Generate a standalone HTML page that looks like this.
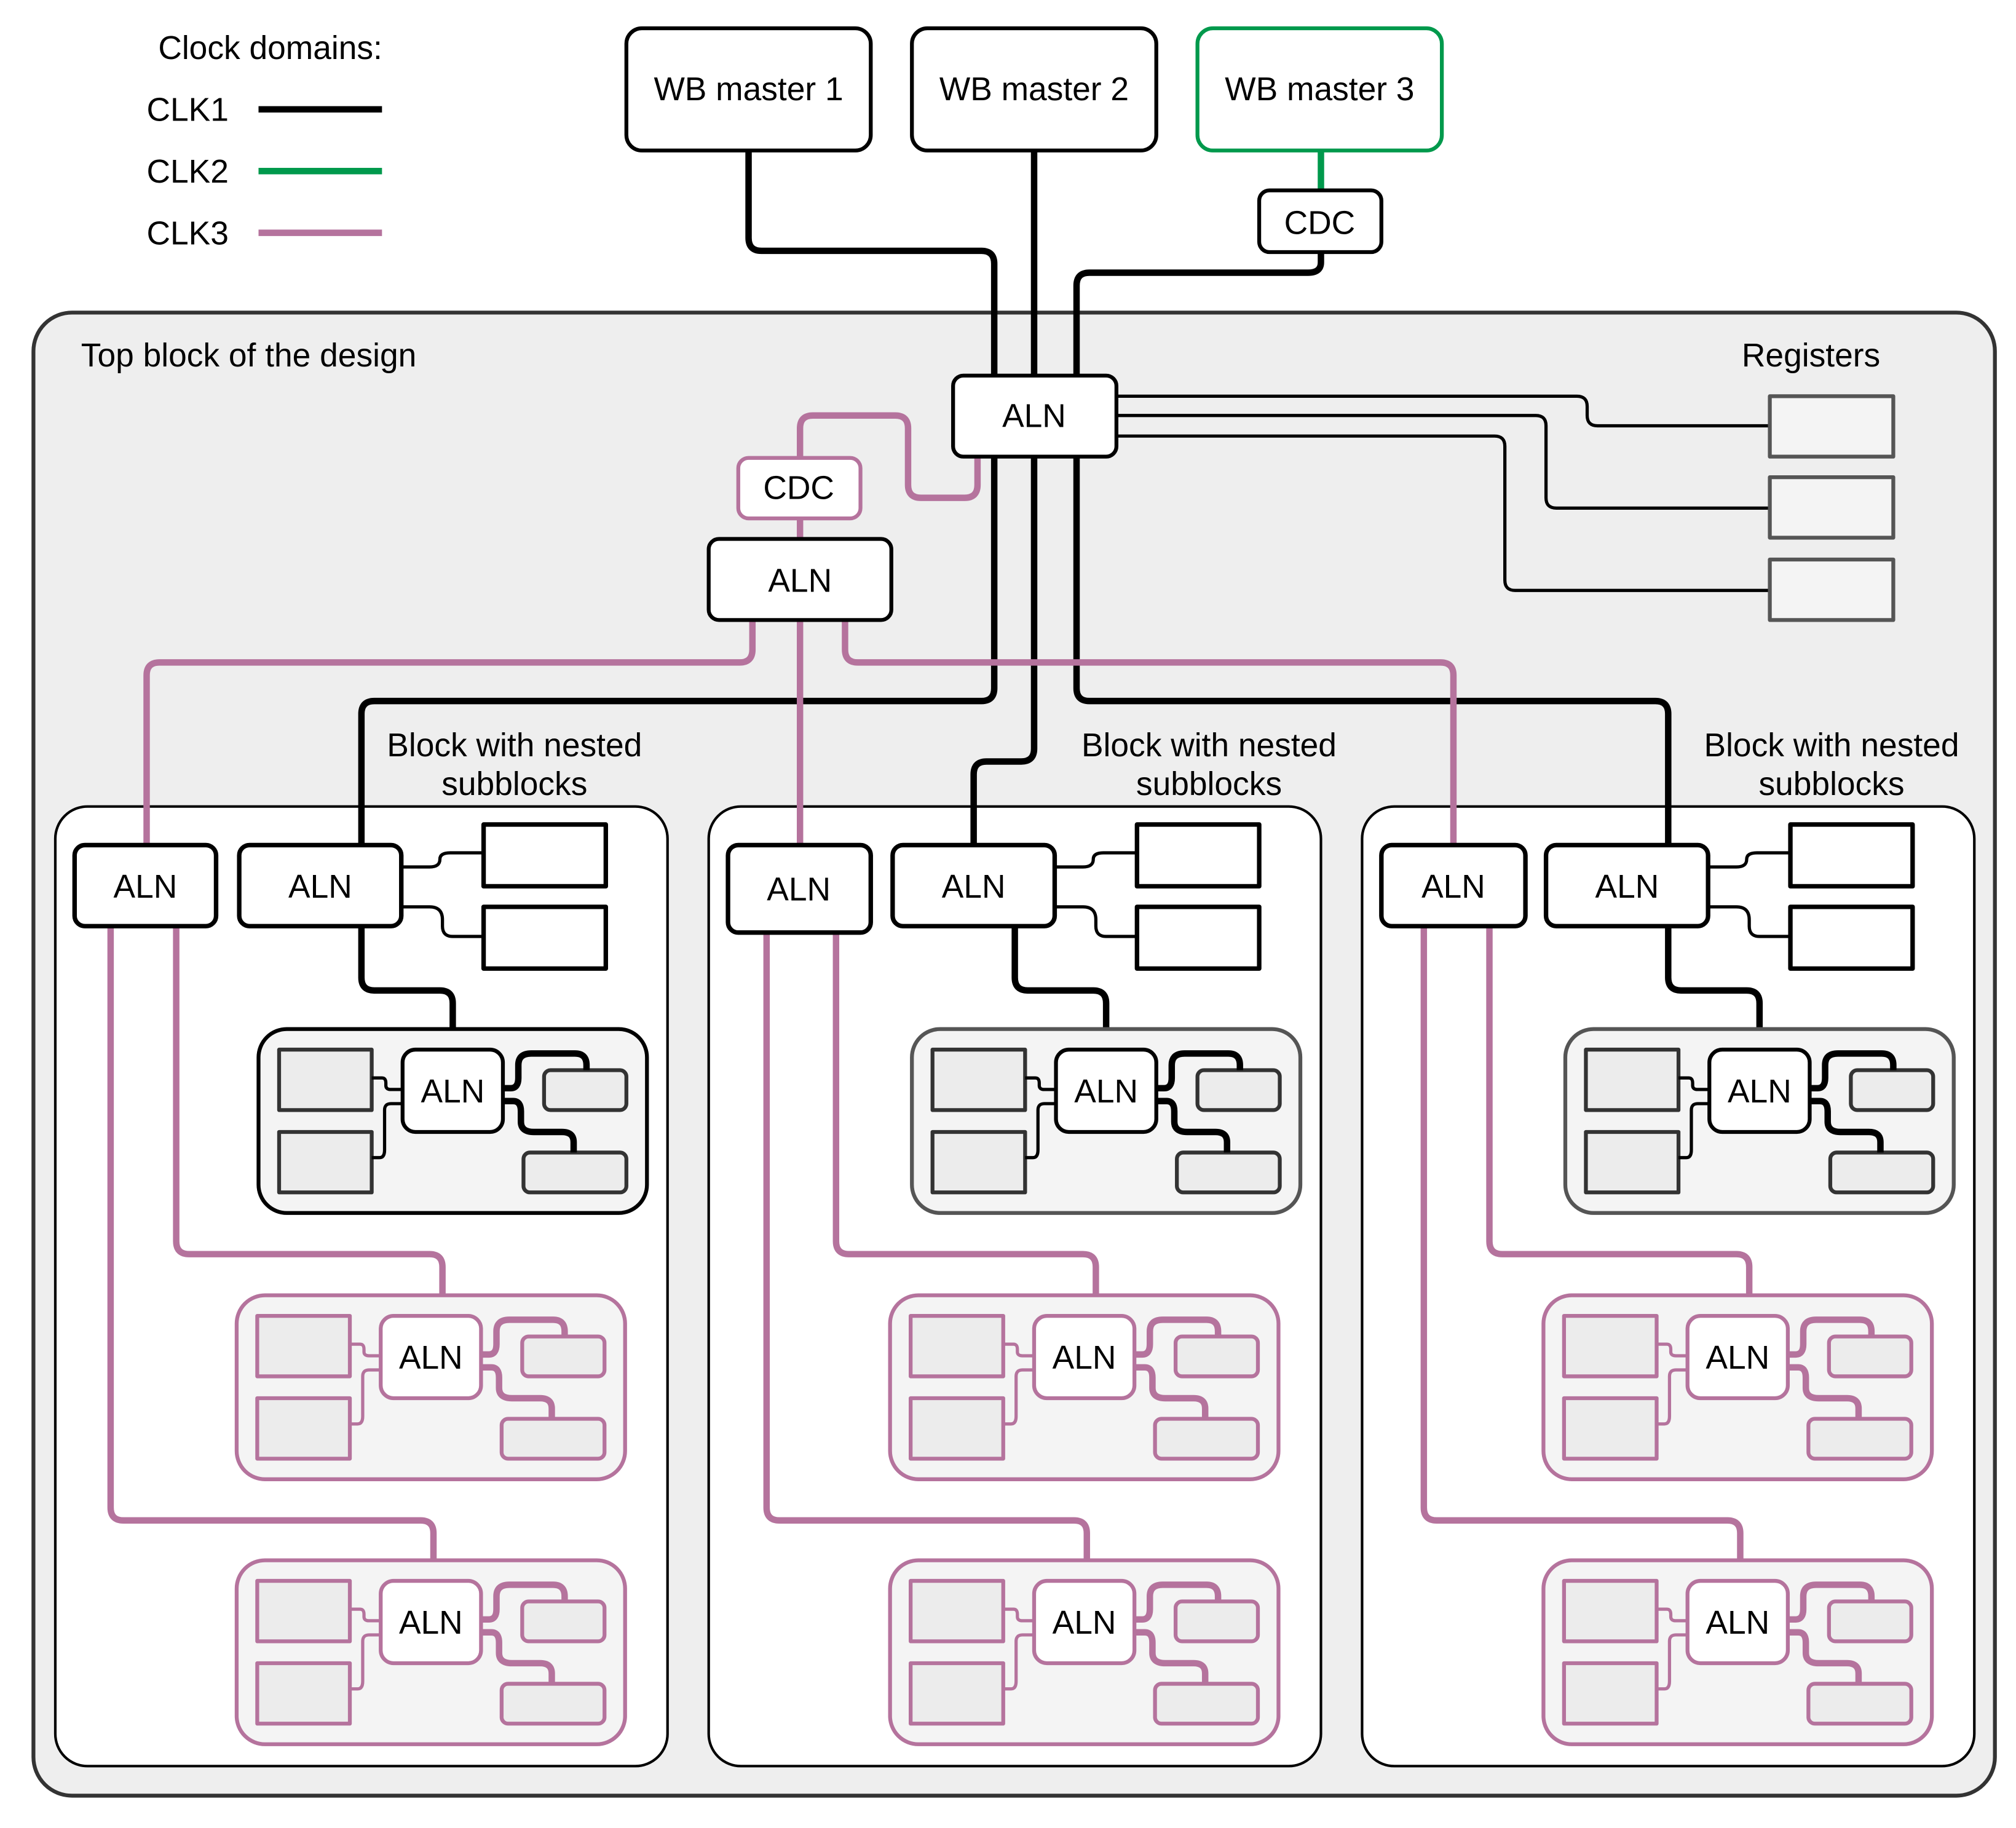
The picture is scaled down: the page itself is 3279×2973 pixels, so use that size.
<!DOCTYPE html>
<html><head><meta charset="utf-8"><style>
html,body{margin:0;padding:0;background:#fff;width:3279px;height:2973px;overflow:hidden}
svg{display:block}
text{font-family:"Liberation Sans",Arial,sans-serif;font-size:25.5px;fill:#000}
.c{text-anchor:middle}
</style></head><body>
<svg width="3279" height="2973" viewBox="0 0 3279 2973" xmlns="http://www.w3.org/2000/svg">
<g transform="scale(2.092)" fill="none" stroke-linejoin="round">
<!-- legend -->
<text x="123" y="46">Clock domains:</text>
<text x="114" y="94">CLK1</text>
<text x="114" y="142">CLK2</text>
<text x="114" y="190">CLK3</text>
<line x1="201" y1="85" x2="297" y2="85" stroke="#000" stroke-width="5"/>
<line x1="201" y1="133" x2="297" y2="133" stroke="#00994c" stroke-width="5"/>
<line x1="201" y1="181" x2="297" y2="181" stroke="#b5739d" stroke-width="5"/>

<!-- top block -->
<rect x="26" y="243" width="1525" height="1153" rx="30" fill="#eeeeee" stroke="#333" stroke-width="3"/>
<text x="63" y="285">Top block of the design</text>
<text x="1408" y="285" class="c">Registers</text>

<!-- masters -->
<rect x="487" y="22" width="190" height="95" rx="12" fill="#fff" stroke="#000" stroke-width="3"/>
<text x="582" y="78" class="c">WB master 1</text>
<rect x="709" y="22" width="190" height="95" rx="12" fill="#fff" stroke="#000" stroke-width="3"/>
<text x="804" y="78" class="c">WB master 2</text>
<rect x="931" y="22" width="190" height="95" rx="12" fill="#fff" stroke="#00994c" stroke-width="3"/>
<text x="1026" y="78" class="c">WB master 3</text>
<line x1="1027" y1="117" x2="1027" y2="148" stroke="#00994c" stroke-width="5"/>

<!-- column blocks -->
<rect x="43" y="627" width="476" height="746" rx="25" fill="#fff" stroke="#000" stroke-width="2"/>
<rect x="551" y="627" width="476" height="746" rx="25" fill="#fff" stroke="#000" stroke-width="2"/>
<rect x="1059" y="627" width="476" height="746" rx="25" fill="#fff" stroke="#000" stroke-width="2"/>
<text x="400" y="588" class="c">Block with nested</text><text x="400" y="618" class="c">subblocks</text>
<text x="940" y="588" class="c">Block with nested</text><text x="940" y="618" class="c">subblocks</text>
<text x="1424" y="588" class="c">Block with nested</text><text x="1424" y="618" class="c">subblocks</text>

<!-- black main lines -->
<g stroke="#000" stroke-width="5">
<path d="M582 117 V185 Q582 195 592 195 H763 Q773 195 773 205 V535 Q773 545 763 545 H291 Q281 545 281 555 V657"/>
<path d="M804 117 V582 Q804 592 794 592 H767 Q757 592 757 602 V657"/>
<path d="M1027 196 V204 Q1027 212 1017 212 H847 Q837 212 837 222 V535 Q837 545 847 545 H1287 Q1297 545 1297 555 V657"/>
</g>
<!-- register thin lines -->
<g stroke="#000" stroke-width="2.5">
<path d="M868 308 H1226 Q1234 308 1234 316 V323 Q1234 331 1242 331 H1376"/>
<path d="M868 323 H1194 Q1202 323 1202 331 V387 Q1202 395 1210 395 H1376"/>
<path d="M868 339 H1162 Q1170 339 1170 347 V451 Q1170 459 1178 459 H1376"/>
</g>
<rect x="1376" y="308" width="96" height="47" fill="#f4f4f4" stroke="#555" stroke-width="3"/>
<rect x="1376" y="371" width="96" height="47" fill="#f4f4f4" stroke="#555" stroke-width="3"/>
<rect x="1376" y="435" width="96" height="47" fill="#f4f4f4" stroke="#555" stroke-width="3"/>

<!-- pink top lines -->
<g stroke="#b5739d" stroke-width="5">
<path d="M760 355 V377 Q760 387 750 387 H716 Q706 387 706 377 V333 Q706 323 696 323 H632 Q622 323 622 333 V356"/>
<path d="M622 403 V419"/>
<path d="M585 482 V505 Q585 515 575 515 H124 Q114 515 114 525 V657"/>
<path d="M622 482 V657"/>
<path d="M657 482 V505 Q657 515 667 515 H1120 Q1130 515 1130 525 V657"/>
</g>

<!-- CDC / ALN top -->
<rect x="979" y="148" width="95" height="48" rx="8" fill="#fff" stroke="#000" stroke-width="3"/>
<text x="1026" y="182" class="c">CDC</text>
<rect x="741" y="292" width="127" height="63" rx="8" fill="#fff" stroke="#000" stroke-width="3"/>
<text x="804" y="332" class="c">ALN</text>
<rect x="574" y="356" width="95" height="47" rx="8" fill="#fff" stroke="#b5739d" stroke-width="3"/>
<text x="621" y="388" class="c">CDC</text>
<rect x="551" y="419" width="142" height="63" rx="8" fill="#fff" stroke="#000" stroke-width="3"/>
<text x="622" y="460" class="c">ALN</text>

<!-- per column lines -->
<g stroke="#b5739d" stroke-width="5">
<path d="M137 720 V965 Q137 975 147 975 H334 Q344 975 344 985 V1007"/>
<path d="M86 720 V1172 Q86 1182 96 1182 H327 Q337 1182 337 1192 V1213"/>
<path d="M650 725 V965 Q650 975 660 975 H842 Q852 975 852 985 V1007"/>
<path d="M596 725 V1172 Q596 1182 606 1182 H835 Q845 1182 845 1192 V1213"/>
<path d="M1158 720 V965 Q1158 975 1168 975 H1350 Q1360 975 1360 985 V1007"/>
<path d="M1107 720 V1172 Q1107 1182 1117 1182 H1343 Q1353 1182 1353 1192 V1213"/>
</g>
<g stroke="#000" stroke-width="5">
<path d="M281 720 V760 Q281 770 291 770 H342 Q352 770 352 780 V816"/>
<path d="M789 720 V760 Q789 770 799 770 H850 Q860 770 860 780 V816"/>
<path d="M1297 720 V760 Q1297 770 1307 770 H1358 Q1368 770 1368 780 V816"/>
</g>
<g stroke="#000" stroke-width="2.5">
<path d="M312 674 H334 Q342 674 342 668 Q342 663 350 663 H376"/>
<path d="M312 705 H334 Q344 705 344 715 V720 Q344 728 352 728 H376"/>
<path d="M820 674 H842 Q850 674 850 668 Q850 663 858 663 H884"/>
<path d="M820 705 H842 Q852 705 852 715 V720 Q852 728 860 728 H884"/>
<path d="M1328 674 H1350 Q1358 674 1358 668 Q1358 663 1366 663 H1392"/>
<path d="M1328 705 H1350 Q1360 705 1360 715 V720 Q1360 728 1368 728 H1392"/>
</g>
<g fill="#fff" stroke="#000" stroke-width="3">
<rect x="58" y="657" width="110" height="63" rx="8" stroke-width="3.5"/>
<rect x="186" y="657" width="126" height="63" rx="8" stroke-width="3.5"/>
<rect x="376" y="641" width="95" height="48" stroke-width="3.5"/>
<rect x="376" y="705" width="95" height="48" stroke-width="3.5"/>
<rect x="566" y="657" width="111" height="68" rx="8" stroke-width="3.5"/>
<rect x="694" y="657" width="126" height="63" rx="8" stroke-width="3.5"/>
<rect x="884" y="641" width="95" height="48" stroke-width="3.5"/>
<rect x="884" y="705" width="95" height="48" stroke-width="3.5"/>
<rect x="1074" y="657" width="112" height="63" rx="8" stroke-width="3.5"/>
<rect x="1202" y="657" width="126" height="63" rx="8" stroke-width="3.5"/>
<rect x="1392" y="641" width="95" height="48" stroke-width="3.5"/>
<rect x="1392" y="705" width="95" height="48" stroke-width="3.5"/>
</g>
<text x="113" y="698" class="c">ALN</text>
<text x="249" y="698" class="c">ALN</text>
<text x="621" y="700" class="c">ALN</text>
<text x="757" y="698" class="c">ALN</text>
<text x="1130" y="698" class="c">ALN</text>
<text x="1265" y="698" class="c">ALN</text>

<!-- SUBBLOCKS: black/gray -->
<g transform="translate(201,800)">
<rect x="0" y="0" width="302" height="143" rx="22" fill="#f4f4f4" stroke="#000" stroke-width="3"/>
<rect x="16" y="16" width="72" height="47" fill="#ececec" stroke="#333" stroke-width="3"/>
<rect x="16" y="80" width="72" height="47" fill="#ececec" stroke="#333" stroke-width="3"/>
<path d="M88 38 H96 Q99 38 99 42 V44 Q99 47 103 47 H112" stroke="#000" stroke-width="2.5"/>
<path d="M88 100 H94 Q98 100 98 94 V63 Q98 58 103 58 H112" stroke="#000" stroke-width="2.5"/>
<rect x="222" y="32" width="64" height="31" rx="5" fill="#ececec" stroke="#333" stroke-width="3"/>
<rect x="206" y="96" width="80" height="31" rx="5" fill="#ececec" stroke="#333" stroke-width="3"/>
<path d="M190 46 H196 Q202 46 202 38 V28 Q202 19 212 19 H246 Q255 19 255 28 V32" stroke="#000" stroke-width="5"/>
<path d="M190 56 H198 Q204 56 204 64 V72 Q204 80 214 80 H236 Q245 80 245 88 V96" stroke="#000" stroke-width="5"/>
<rect x="112" y="16" width="78" height="64" rx="10" fill="#fff" stroke="#000" stroke-width="3"/>
<text x="151" y="57" class="c">ALN</text>
</g>
<g transform="translate(709,800)">
<rect x="0" y="0" width="302" height="143" rx="22" fill="#f4f4f4" stroke="#555" stroke-width="3"/>
<rect x="16" y="16" width="72" height="47" fill="#ececec" stroke="#333" stroke-width="3"/>
<rect x="16" y="80" width="72" height="47" fill="#ececec" stroke="#333" stroke-width="3"/>
<path d="M88 38 H96 Q99 38 99 42 V44 Q99 47 103 47 H112" stroke="#000" stroke-width="2.5"/>
<path d="M88 100 H94 Q98 100 98 94 V63 Q98 58 103 58 H112" stroke="#000" stroke-width="2.5"/>
<rect x="222" y="32" width="64" height="31" rx="5" fill="#ececec" stroke="#333" stroke-width="3"/>
<rect x="206" y="96" width="80" height="31" rx="5" fill="#ececec" stroke="#333" stroke-width="3"/>
<path d="M190 46 H196 Q202 46 202 38 V28 Q202 19 212 19 H246 Q255 19 255 28 V32" stroke="#000" stroke-width="5"/>
<path d="M190 56 H198 Q204 56 204 64 V72 Q204 80 214 80 H236 Q245 80 245 88 V96" stroke="#000" stroke-width="5"/>
<rect x="112" y="16" width="78" height="64" rx="10" fill="#fff" stroke="#000" stroke-width="3"/>
<text x="151" y="57" class="c">ALN</text>
</g>
<g transform="translate(1217,800)">
<rect x="0" y="0" width="302" height="143" rx="22" fill="#f4f4f4" stroke="#555" stroke-width="3"/>
<rect x="16" y="16" width="72" height="47" fill="#ececec" stroke="#333" stroke-width="3"/>
<rect x="16" y="80" width="72" height="47" fill="#ececec" stroke="#333" stroke-width="3"/>
<path d="M88 38 H96 Q99 38 99 42 V44 Q99 47 103 47 H112" stroke="#000" stroke-width="2.5"/>
<path d="M88 100 H94 Q98 100 98 94 V63 Q98 58 103 58 H112" stroke="#000" stroke-width="2.5"/>
<rect x="222" y="32" width="64" height="31" rx="5" fill="#ececec" stroke="#333" stroke-width="3"/>
<rect x="206" y="96" width="80" height="31" rx="5" fill="#ececec" stroke="#333" stroke-width="3"/>
<path d="M190 46 H196 Q202 46 202 38 V28 Q202 19 212 19 H246 Q255 19 255 28 V32" stroke="#000" stroke-width="5"/>
<path d="M190 56 H198 Q204 56 204 64 V72 Q204 80 214 80 H236 Q245 80 245 88 V96" stroke="#000" stroke-width="5"/>
<rect x="112" y="16" width="78" height="64" rx="10" fill="#fff" stroke="#000" stroke-width="3"/>
<text x="151" y="57" class="c">ALN</text>
</g>

<!-- SUBBLOCKS: pink -->
<g stroke="#b5739d">
<g transform="translate(184,1007)">
<rect x="0" y="0" width="302" height="143" rx="22" fill="#f4f4f4" stroke-width="3"/>
<rect x="16" y="16" width="72" height="47" fill="#ececec" stroke-width="3"/>
<rect x="16" y="80" width="72" height="47" fill="#ececec" stroke-width="3"/>
<path d="M88 38 H96 Q99 38 99 42 V44 Q99 47 103 47 H112" stroke-width="2.5"/>
<path d="M88 100 H94 Q98 100 98 94 V63 Q98 58 103 58 H112" stroke-width="2.5"/>
<rect x="222" y="32" width="64" height="31" rx="5" fill="#ececec" stroke-width="3"/>
<rect x="206" y="96" width="80" height="31" rx="5" fill="#ececec" stroke-width="3"/>
<path d="M190 46 H196 Q202 46 202 38 V28 Q202 19 212 19 H246 Q255 19 255 28 V32" stroke-width="5"/>
<path d="M190 56 H198 Q204 56 204 64 V72 Q204 80 214 80 H236 Q245 80 245 88 V96" stroke-width="5"/>
<rect x="112" y="16" width="78" height="64" rx="10" fill="#fff" stroke-width="3"/>
<text x="151" y="57" class="c" stroke="none">ALN</text>
</g>
<g transform="translate(184,1213)">
<rect x="0" y="0" width="302" height="143" rx="22" fill="#f4f4f4" stroke-width="3"/>
<rect x="16" y="16" width="72" height="47" fill="#ececec" stroke-width="3"/>
<rect x="16" y="80" width="72" height="47" fill="#ececec" stroke-width="3"/>
<path d="M88 38 H96 Q99 38 99 42 V44 Q99 47 103 47 H112" stroke-width="2.5"/>
<path d="M88 100 H94 Q98 100 98 94 V63 Q98 58 103 58 H112" stroke-width="2.5"/>
<rect x="222" y="32" width="64" height="31" rx="5" fill="#ececec" stroke-width="3"/>
<rect x="206" y="96" width="80" height="31" rx="5" fill="#ececec" stroke-width="3"/>
<path d="M190 46 H196 Q202 46 202 38 V28 Q202 19 212 19 H246 Q255 19 255 28 V32" stroke-width="5"/>
<path d="M190 56 H198 Q204 56 204 64 V72 Q204 80 214 80 H236 Q245 80 245 88 V96" stroke-width="5"/>
<rect x="112" y="16" width="78" height="64" rx="10" fill="#fff" stroke-width="3"/>
<text x="151" y="57" class="c" stroke="none">ALN</text>
</g>
<g transform="translate(692,1007)">
<rect x="0" y="0" width="302" height="143" rx="22" fill="#f4f4f4" stroke-width="3"/>
<rect x="16" y="16" width="72" height="47" fill="#ececec" stroke-width="3"/>
<rect x="16" y="80" width="72" height="47" fill="#ececec" stroke-width="3"/>
<path d="M88 38 H96 Q99 38 99 42 V44 Q99 47 103 47 H112" stroke-width="2.5"/>
<path d="M88 100 H94 Q98 100 98 94 V63 Q98 58 103 58 H112" stroke-width="2.5"/>
<rect x="222" y="32" width="64" height="31" rx="5" fill="#ececec" stroke-width="3"/>
<rect x="206" y="96" width="80" height="31" rx="5" fill="#ececec" stroke-width="3"/>
<path d="M190 46 H196 Q202 46 202 38 V28 Q202 19 212 19 H246 Q255 19 255 28 V32" stroke-width="5"/>
<path d="M190 56 H198 Q204 56 204 64 V72 Q204 80 214 80 H236 Q245 80 245 88 V96" stroke-width="5"/>
<rect x="112" y="16" width="78" height="64" rx="10" fill="#fff" stroke-width="3"/>
<text x="151" y="57" class="c" stroke="none">ALN</text>
</g>
<g transform="translate(692,1213)">
<rect x="0" y="0" width="302" height="143" rx="22" fill="#f4f4f4" stroke-width="3"/>
<rect x="16" y="16" width="72" height="47" fill="#ececec" stroke-width="3"/>
<rect x="16" y="80" width="72" height="47" fill="#ececec" stroke-width="3"/>
<path d="M88 38 H96 Q99 38 99 42 V44 Q99 47 103 47 H112" stroke-width="2.5"/>
<path d="M88 100 H94 Q98 100 98 94 V63 Q98 58 103 58 H112" stroke-width="2.5"/>
<rect x="222" y="32" width="64" height="31" rx="5" fill="#ececec" stroke-width="3"/>
<rect x="206" y="96" width="80" height="31" rx="5" fill="#ececec" stroke-width="3"/>
<path d="M190 46 H196 Q202 46 202 38 V28 Q202 19 212 19 H246 Q255 19 255 28 V32" stroke-width="5"/>
<path d="M190 56 H198 Q204 56 204 64 V72 Q204 80 214 80 H236 Q245 80 245 88 V96" stroke-width="5"/>
<rect x="112" y="16" width="78" height="64" rx="10" fill="#fff" stroke-width="3"/>
<text x="151" y="57" class="c" stroke="none">ALN</text>
</g>
<g transform="translate(1200,1007)">
<rect x="0" y="0" width="302" height="143" rx="22" fill="#f4f4f4" stroke-width="3"/>
<rect x="16" y="16" width="72" height="47" fill="#ececec" stroke-width="3"/>
<rect x="16" y="80" width="72" height="47" fill="#ececec" stroke-width="3"/>
<path d="M88 38 H96 Q99 38 99 42 V44 Q99 47 103 47 H112" stroke-width="2.5"/>
<path d="M88 100 H94 Q98 100 98 94 V63 Q98 58 103 58 H112" stroke-width="2.5"/>
<rect x="222" y="32" width="64" height="31" rx="5" fill="#ececec" stroke-width="3"/>
<rect x="206" y="96" width="80" height="31" rx="5" fill="#ececec" stroke-width="3"/>
<path d="M190 46 H196 Q202 46 202 38 V28 Q202 19 212 19 H246 Q255 19 255 28 V32" stroke-width="5"/>
<path d="M190 56 H198 Q204 56 204 64 V72 Q204 80 214 80 H236 Q245 80 245 88 V96" stroke-width="5"/>
<rect x="112" y="16" width="78" height="64" rx="10" fill="#fff" stroke-width="3"/>
<text x="151" y="57" class="c" stroke="none">ALN</text>
</g>
<g transform="translate(1200,1213)">
<rect x="0" y="0" width="302" height="143" rx="22" fill="#f4f4f4" stroke-width="3"/>
<rect x="16" y="16" width="72" height="47" fill="#ececec" stroke-width="3"/>
<rect x="16" y="80" width="72" height="47" fill="#ececec" stroke-width="3"/>
<path d="M88 38 H96 Q99 38 99 42 V44 Q99 47 103 47 H112" stroke-width="2.5"/>
<path d="M88 100 H94 Q98 100 98 94 V63 Q98 58 103 58 H112" stroke-width="2.5"/>
<rect x="222" y="32" width="64" height="31" rx="5" fill="#ececec" stroke-width="3"/>
<rect x="206" y="96" width="80" height="31" rx="5" fill="#ececec" stroke-width="3"/>
<path d="M190 46 H196 Q202 46 202 38 V28 Q202 19 212 19 H246 Q255 19 255 28 V32" stroke-width="5"/>
<path d="M190 56 H198 Q204 56 204 64 V72 Q204 80 214 80 H236 Q245 80 245 88 V96" stroke-width="5"/>
<rect x="112" y="16" width="78" height="64" rx="10" fill="#fff" stroke-width="3"/>
<text x="151" y="57" class="c" stroke="none">ALN</text>
</g>
</g>
</g>
</svg>
</body></html>
